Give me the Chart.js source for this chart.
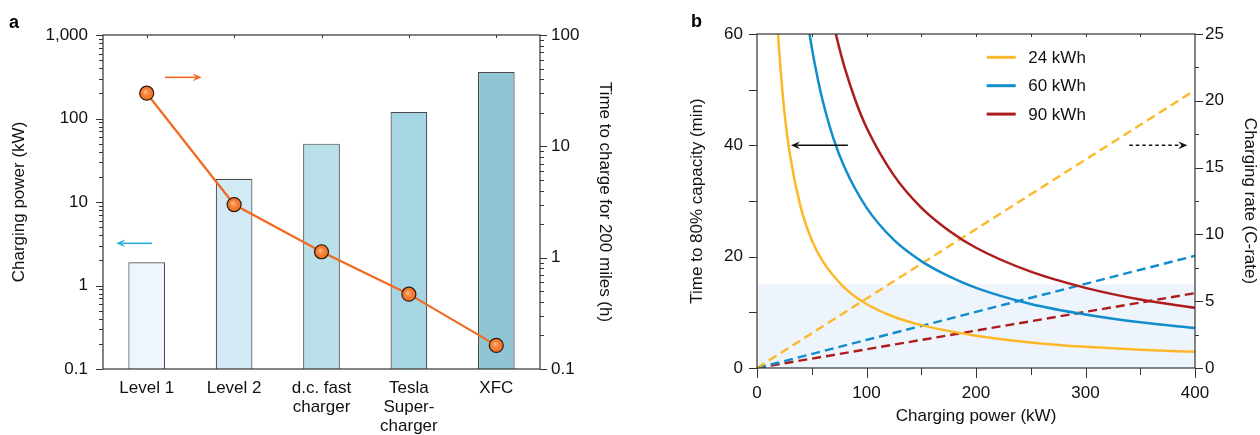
<!DOCTYPE html>
<html>
<head>
<meta charset="utf-8">
<script src="https://cdn.jsdelivr.net/npm/chart.js@4.4.1/dist/chart.umd.min.js"></script>
<style>
  body { margin: 0; background: #fff; }
  #wrap { position: relative; width: 1260px; height: 435px; }
  canvas { position: absolute; top: 0; }
</style>
</head>
<body>
<div id="wrap">
  <canvas id="panelA" width="630" height="435" style="left:0"></canvas>
  <canvas id="panelB" width="630" height="435" style="left:630px"></canvas>
</div>
<script>
// ---- panel a data ----
const categories = [['Level 1'], ['Level 2'], ['d.c. fast', 'charger'], ['Tesla', 'Super-', 'charger'], ['XFC']];
const powerKW = [1.9, 19, 50, 120, 360];
const timeHours = [30, 3, 1.13, 0.47, 0.163];
const powerTicks = [0.1, 1, 10, 100, 1000];
const timeTicks = [0.1, 1, 10, 100];

// ---- panel b data ----
const power24 = [19.2, 20, 25, 30, 40, 50, 60, 80, 100, 125, 150, 200, 250, 300, 350, 400];
const minutes24 = [60, 57.6, 46, 38.4, 28.8, 23, 19.2, 14.4, 11.5, 9.2, 7.7, 5.8, 4.6, 3.8, 3.3, 2.9];
const power60 = [48, 50, 55, 60, 70, 80, 100, 125, 150, 175, 200, 250, 300, 350, 400];
const minutes60 = [60, 57.6, 52.4, 48, 41.1, 36, 28.8, 23, 19.2, 16.5, 14.4, 11.5, 9.6, 8.2, 7.2];
const power90 = [72, 75, 80, 90, 100, 125, 150, 175, 200, 250, 300, 350, 400];
const minutes90 = [60, 57.6, 54, 48, 43.2, 34.6, 28.8, 24.7, 21.6, 17.3, 14.4, 12.3, 10.8];
const ratePower = [0, 400];
const rate24 = [0, 20.8];
const rate60 = [0, 8.4];
const rate90 = [0, 5.6];
const shadePower = [0, 400];
const shadeMinutes = [15, 15];
const minuteTicks = [0, 20, 40, 60];
const rateTicks = [0, 5, 10, 15, 20, 25];
const kwTicks = [0, 100, 200, 300, 400];

const YELLOW = '#fdb82a', BLUE = '#118dcc', RED = '#ad1c1d';
const FONT = '"Liberation Sans", Arial, sans-serif';
Chart.defaults.font.family = FONT;
Chart.defaults.color = '#111';

const toPoints = (xs, ys) => xs.map((x, i) => ({ x: x, y: ys[i] }));

// minor ticks for log axes
function logMinor(min, max) {
  const out = [];
  for (let d = min; d < max; d *= 10) {
    for (let k = 2; k <= 9; k++) out.push(+(d * k).toPrecision(3));
  }
  return out;
}
function steps(from, to, step) {
  const out = [];
  for (let v = from; v <= to + 1e-9; v += step) out.push(v);
  return out;
}

function drawArrow(ctx, x1, y1, x2, y2, color, width, dash) {
  const ang = Math.atan2(y2 - y1, x2 - x1), head = 9, half = 3.8;
  const c = Math.cos(ang), s = Math.sin(ang);
  ctx.strokeStyle = color; ctx.fillStyle = color; ctx.lineWidth = width;
  ctx.setLineDash(dash || []);
  ctx.beginPath();
  ctx.moveTo(x1, y1);
  ctx.lineTo(x2 - head * 0.7 * c, y2 - head * 0.7 * s);
  ctx.stroke();
  ctx.setLineDash([]);
  ctx.beginPath();
  ctx.moveTo(x2, y2);
  ctx.lineTo(x2 - head * c + half * s, y2 - head * s - half * c);
  ctx.lineTo(x2 - head * 0.65 * c, y2 - head * 0.65 * s);
  ctx.lineTo(x2 - head * c - half * s, y2 - head * s + half * c);
  ctx.closePath();
  ctx.fill();
}

const decor = {
  id: 'decor',
  afterDatasetsDraw(chart, args, opts) {
    const { ctx } = chart;
    // soft highlight on the round markers
    (opts.shine || []).forEach(idx => {
      chart.getDatasetMeta(idx).data.forEach(pt => {
        const g = ctx.createRadialGradient(pt.x - 1.5, pt.y - 1.5, 0.5, pt.x, pt.y, 6);
        g.addColorStop(0, 'rgba(255,190,140,0.9)');
        g.addColorStop(1, 'rgba(243,122,44,0)');
        ctx.save();
        ctx.fillStyle = g;
        ctx.beginPath(); ctx.arc(pt.x, pt.y, 6, 0, Math.PI * 2); ctx.fill();
        ctx.restore();
      });
    });
  },
  afterDraw(chart, args, opts) {
    const { ctx, chartArea: a, scales } = chart;
    ctx.save();
    ctx.strokeStyle = '#333';
    ctx.lineWidth = 1.2;
    ctx.strokeRect(a.left, a.top, a.right - a.left, a.bottom - a.top);

    ctx.lineWidth = 1;
    (opts.marks || []).forEach(m => {
      const sc = scales[m.scale];
      m.values.forEach(v => {
        const p = Math.round(sc.getPixelForValue(v)) + 0.5;
        ctx.beginPath();
        if (m.side === 'left') { ctx.moveTo(a.left, p); ctx.lineTo(a.left - m.len, p); }
        else if (m.side === 'right') { ctx.moveTo(a.right, p); ctx.lineTo(a.right + m.len, p); }
        else if (m.side === 'bottom') { ctx.moveTo(p, a.bottom); ctx.lineTo(p, a.bottom + m.len); }
        else { ctx.moveTo(p, a.top); ctx.lineTo(p, a.top + m.len); }
        ctx.stroke();
      });
    });

    (opts.arrows || []).forEach(ar => {
      const xs = scales[ar.xScale], ys = scales[ar.yScale];
      drawArrow(ctx,
        xs.getPixelForValue(ar.from[0]), ys.getPixelForValue(ar.from[1]),
        xs.getPixelForValue(ar.to[0]), ys.getPixelForValue(ar.to[1]),
        ar.color, ar.width, ar.dash);
    });

    if (opts.legend) {
      const lg = opts.legend;
      ctx.font = '17px ' + FONT;
      ctx.textBaseline = 'middle';
      lg.items.forEach((it, i) => {
        const y = a.top + lg.top + i * lg.gap;
        ctx.strokeStyle = it.color; ctx.lineWidth = 3;
        ctx.beginPath(); ctx.moveTo(a.left + lg.left, y); ctx.lineTo(a.left + lg.left + 29, y); ctx.stroke();
        ctx.fillStyle = '#111';
        ctx.fillText(it.label, a.left + lg.left + 41.5, y + 1);
      });
    }

    if (opts.letter) {
      ctx.font = 'bold 18px ' + FONT;
      ctx.fillStyle = '#000';
      ctx.textBaseline = 'alphabetic';
      ctx.fillText(opts.letter.text, opts.letter.x, opts.letter.y);
    }
    ctx.restore();
  }
};

// ---------------- panel a ----------------
new Chart(document.getElementById('panelA'), {
  type: 'bar',
  data: {
    labels: categories,
    datasets: [
      {
        type: 'line',
        data: timeHours,
        yAxisID: 'y2',
        borderColor: '#f26a21',
        borderWidth: 2.2,
        pointRadius: 7,
        pointBackgroundColor: '#f2752a',
        pointBorderColor: '#2a180c',
        pointBorderWidth: 1.2,
        order: 0
      },
      {
        type: 'bar',
        data: powerKW,
        yAxisID: 'y',
        backgroundColor: ['#eef5fc', '#d2eaf3', '#b9dfe9', '#a6d5e3', '#90c5d3'],
        borderColor: '#4a4a4a',
        borderWidth: 1.2,
        barPercentage: 0.42,
        categoryPercentage: 1,
        order: 1
      }
    ]
  },
  options: {
    responsive: false,
    animation: false,
    events: [],
    layout: { padding: { top: 35, left: 0, right: 0, bottom: 0 } },
    plugins: {
      legend: { display: false },
      tooltip: { enabled: false },
      decor: {
        letter: { text: 'a', x: 9, y: 28 },
        shine: [0],
        marks: [
          { scale: 'y', side: 'left', values: powerTicks, len: 7 },
          { scale: 'y', side: 'left', values: logMinor(0.1, 1000), len: 4 },
          { scale: 'y2', side: 'right', values: timeTicks, len: 7 },
          { scale: 'y2', side: 'right', values: logMinor(0.1, 100), len: 4 },
          { scale: 'x', side: 'top', values: [0, 1, 2, 3, 4], len: 3 }
        ],
        arrows: [
          { xScale: 'x', yScale: 'y', from: [0.21, 311], to: [0.63, 311], color: '#f26a21', width: 1.6 },
          { xScale: 'x', yScale: 'y', from: [0.06, 3.2], to: [-0.35, 3.2], color: '#2bb0dc', width: 1.6 }
        ]
      }
    },
    scales: {
      x: {
        grid: { display: false, drawTicks: false },
        border: { display: false },
        ticks: { font: { size: 17, lineHeight: 1.12 }, padding: 9.5, maxRotation: 0, autoSkip: false },
        afterFit: s => { s.height = 66; }
      },
      y: {
        type: 'logarithmic',
        position: 'left',
        min: 0.1,
        max: 1000,
        grid: { display: false, drawTicks: false },
        border: { display: false },
        afterBuildTicks: s => { s.ticks = powerTicks.map(v => ({ value: v })); },
        ticks: { font: { size: 17 }, padding: 15, callback: v => v.toLocaleString('en-US') },
        title: { display: true, text: 'Charging power (kW)', font: { size: 17 }, padding: { top: 9, bottom: 0 } },
        afterFit: s => { s.width = 103; }
      },
      y2: {
        type: 'logarithmic',
        position: 'right',
        min: 0.1,
        max: 100,
        grid: { display: false, drawTicks: false },
        border: { display: false },
        afterBuildTicks: s => { s.ticks = timeTicks.map(v => ({ value: v })); },
        ticks: { font: { size: 17 }, padding: 11, callback: v => v.toLocaleString('en-US') },
        title: { display: true, text: 'Time to charge for 200 miles (h)', font: { size: 17 }, padding: { top: 15, bottom: 0 } },
        afterFit: s => { s.width = 90; }
      }
    }
  },
  plugins: [decor]
});

// ---------------- panel b ----------------
const curve = (label, xs, ys, color) => ({
  label: label, data: toPoints(xs, ys), yAxisID: 'y',
  borderColor: color, borderWidth: 2.5, pointRadius: 0, fill: false,
  cubicInterpolationMode: 'monotone', order: 1
});
const rateLine = (label, xs, ys, color) => ({
  label: label, data: toPoints(xs, ys), yAxisID: 'y2',
  borderColor: color, borderWidth: 2.4, borderDash: [9, 5], pointRadius: 0, fill: false, order: 2
});

new Chart(document.getElementById('panelB'), {
  type: 'line',
  data: {
    datasets: [
      {
        label: 'fast charge window', data: toPoints(shadePower, shadeMinutes), yAxisID: 'y',
        borderWidth: 0, pointRadius: 0, fill: 'origin', backgroundColor: '#eef4fb', order: 10
      },
      rateLine('24 kWh C-rate', ratePower, rate24, YELLOW),
      rateLine('60 kWh C-rate', ratePower, rate60, BLUE),
      rateLine('90 kWh C-rate', ratePower, rate90, RED),
      curve('24 kWh', power24, minutes24, YELLOW),
      curve('60 kWh', power60, minutes60, BLUE),
      curve('90 kWh', power90, minutes90, RED)
    ]
  },
  options: {
    responsive: false,
    animation: false,
    events: [],
    layout: { padding: { top: 34, left: 0, right: 0, bottom: 0 } },
    plugins: {
      legend: { display: false },
      tooltip: { enabled: false },
      decor: {
        letter: { text: 'b', x: 61, y: 27 },
        marks: [
          { scale: 'y', side: 'left', values: steps(0, 60, 10), len: 8 },
          { scale: 'y2', side: 'right', values: rateTicks, len: 8 },
          { scale: 'y2', side: 'right', values: steps(2.5, 22.5, 5), len: 4 },
          { scale: 'x', side: 'bottom', values: kwTicks, len: 10 },
          { scale: 'x', side: 'bottom', values: steps(50, 350, 100), len: 7 },
          { scale: 'x', side: 'top', values: steps(50, 350, 50), len: 3 }
        ],
        arrows: [
          { xScale: 'x', yScale: 'y', from: [83, 40], to: [31, 40], color: '#111', width: 1.5 },
          { xScale: 'x', yScale: 'y', from: [340, 40], to: [393, 40], color: '#111', width: 1.5, dash: [3.5, 3] }
        ],
        legend: {
          left: 229.7, top: 23.3, gap: 28.4,
          items: [
            { label: '24 kWh', color: YELLOW },
            { label: '60 kWh', color: BLUE },
            { label: '90 kWh', color: RED }
          ]
        }
      }
    },
    scales: {
      x: {
        type: 'linear',
        min: 0,
        max: 400,
        grid: { display: false, drawTicks: false },
        border: { display: false },
        afterBuildTicks: s => { s.ticks = kwTicks.map(v => ({ value: v })); },
        ticks: { font: { size: 17 }, padding: 15, maxRotation: 0 },
        title: { display: true, text: 'Charging power (kW)', font: { size: 17 }, padding: { top: 0, bottom: 8 } },
        afterFit: s => { s.height = 67; }
      },
      y: {
        position: 'left',
        min: 0,
        max: 60,
        grid: { display: false, drawTicks: false },
        border: { display: false },
        afterBuildTicks: s => { s.ticks = minuteTicks.map(v => ({ value: v })); },
        ticks: { font: { size: 17 }, padding: 14 },
        title: { display: true, text: 'Time to 80% capacity (min)', font: { size: 17 }, padding: { top: 57, bottom: 0 } },
        afterFit: s => { s.width = 127; }
      },
      y2: {
        position: 'right',
        min: 0,
        max: 25,
        grid: { display: false, drawTicks: false },
        border: { display: false },
        afterBuildTicks: s => { s.ticks = rateTicks.map(v => ({ value: v })); },
        ticks: { font: { size: 17 }, padding: 10 },
        title: { display: true, text: 'Charging rate (C-rate)', font: { size: 17 }, padding: { top: 0, bottom: 0 } },
        afterFit: s => { s.width = 65; }
      }
    }
  },
  plugins: [decor]
});
</script>
</body>
</html>
